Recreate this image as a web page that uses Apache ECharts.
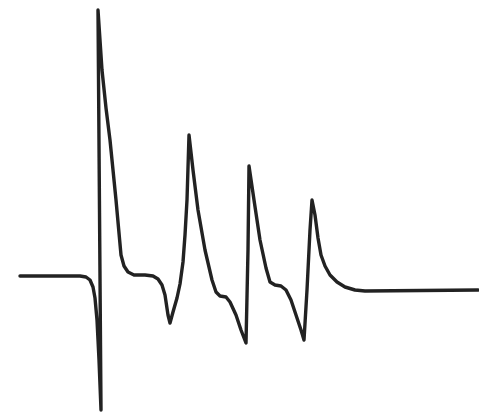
<!DOCTYPE html>
<html>
<head>
<meta charset="utf-8">
<script src="https://cdn.jsdelivr.net/npm/echarts@6/dist/echarts.min.js"></script>
<style>html,body{margin:0;padding:0;background:#fff;}#c{width:479px;height:414px;}</style>
</head>
<body>
<div id="c"></div>
<script>
// time samples (horizontal) and signal level (vertical, larger = higher)
const time = [20,80,86,90,93,95,97,99,101,98,102,106,110,116,121,124,128,134,145,153,158,162,165,168,170,173,177,180,183,185,187,189,193,198,205,212,216,220,226,230,236,241,246,248,249,254,260,266,270,275,281,286,291,296,301,304,307,310,312,315,318,321,325,330,337,345,355,365,478];
const ypix = [276,276,277,280,287,298,320,360,410,10,70,108,140,200,255,266,272,275,275,276,279,285,295,315,323,312,298,284,262,235,200,135,170,210,250,280,292,296,297,302,315,330,343,250,166,200,240,268,282,285,286,290,300,315,330,340,290,230,200,215,238,255,266,275,282,287,290,291,290];
const level = ypix.map(v => 414 - v);

const chart = echarts.init(document.getElementById('c'));
chart.setOption({
  animation: false,
  grid: {left: 0, right: 0, top: 0, bottom: 0},
  xAxis: {type: 'value', min: 0, max: 479, show: false},
  yAxis: {type: 'value', min: 0, max: 414, show: false},
  series: [{
    type: 'line',
    data: time.map((t, i) => [t, level[i]]),
    showSymbol: false,
    smooth: false,
    lineStyle: {color: '#222222', width: 3.4, join: 'round', cap: 'round'}
  }]
});
</script>
</body>
</html>
